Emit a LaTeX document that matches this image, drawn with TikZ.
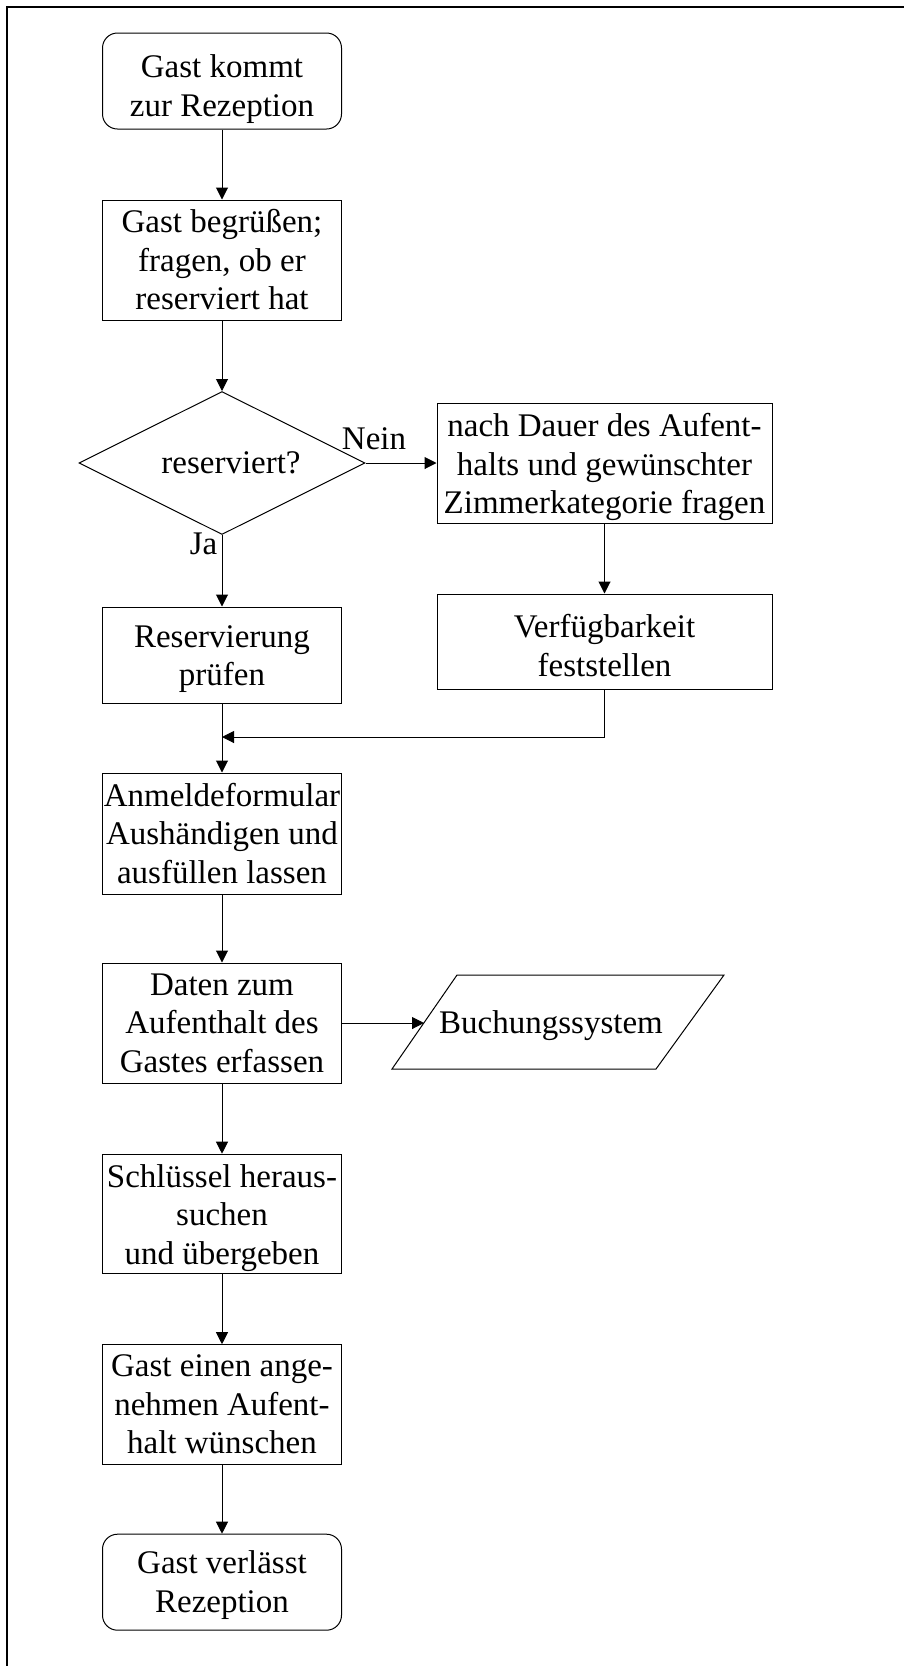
\documentclass[tikz,border=0pt]{standalone}
\usepackage{fontspec}
\setmainfont{Liberation Serif}
\usetikzlibrary{arrows.meta,shapes.geometric}
\begin{document}
\begin{tikzpicture}[x=1pt,y=-1pt,
  every node/.style={font=\fontsize{33}{38.5}\selectfont, align=center, inner sep=0pt},
  box/.style={draw, line width=1pt, minimum width=239pt},
  term/.style={box, rounded corners=15pt},
  dec/.style={draw, line width=1pt, diamond, aspect=2, minimum width=286pt, minimum height=143pt},
  conn/.style={line width=1pt, -{Triangle[length=12pt,width=12pt]}},
  lbl/.style={}]
\useasboundingbox (0,0) rectangle (904,1666);
\draw[line width=2.3pt] (7,1666) -- (7,7) -- (904,7);

\node[term, minimum height=96pt, label={[yshift=-8pt]center:{Gast kommt\\zur Rezeption}}] (start) at (222,81) {};
\node[box, minimum height=120pt] (greet) at (222,260) {Gast begrüßen;\\fragen, ob er\\reserviert hat};
\node[dec] (decide) at (222,463) {};
\node (dectext) at (231,463) {reserviert?};
\node[box, minimum width=335pt, minimum height=120pt, label={[yshift=-4pt]center:{nach Dauer des Aufent-\\halts und gewünschter\\Zimmerkategorie fragen}}] (ask) at (604.5,463) {};
\node[box, minimum width=335pt, minimum height=95pt, label={[yshift=-4pt]center:{Verfügbarkeit\\feststellen}}] (avail) at (604.5,641.5) {};
\node[box, minimum height=96pt, label={[yshift=-4pt]center:{Reservierung\\prüfen}}] (check) at (222,655) {};
\coordinate (merge) at (222,737);
\node[box, minimum height=121pt] (form) at (222,833.5) {Anmeldeformular\\Aushändigen und\\ausfüllen lassen};
\node[box, minimum height=120pt] (data) at (222,1023) {Daten zum\\Aufenthalt des\\Gastes erfassen};
\draw[line width=1pt] (457,975) -- (724,975) -- (656,1069) -- (392,1069) -- cycle;
\coordinate (buchin) at (424,1022);
\node (buch) at (551,1025.5) {Buchungssystem};
\node[box, minimum height=119pt, label={[yshift=-4pt]center:{Schlüssel heraus-\\suchen\\und übergeben}}] (key) at (222,1213.7) {};
\node[box, minimum height=120pt] (wish) at (222,1404.7) {Gast einen ange-\\nehmen Aufent-\\halt wünschen};
\node[term, minimum height=96pt, label={[yshift=-3pt]center:{Gast verlässt\\Rezeption}}] (end) at (222,1582.2) {};

\node[lbl] (nein) at (374,439) {Nein};
\node[lbl] (ja) at (203.5,544) {Ja};

\draw[conn] (start) -- (greet);
\draw[conn] (greet) -- (decide.north);
\draw[conn] (decide.east) -- (ask.west);
\draw[conn] (decide.south) -- (check);
\draw[conn] (ask) -- (avail);
\draw[conn] (avail.south) |- (merge);
\draw[conn] (check) -- (form);
\draw[conn] (form) -- (data);
\draw[conn] (data.east) -- (data.east -| buchin);
\draw[conn] (data) -- (key);
\draw[conn] (key) -- (wish);
\draw[conn] (wish) -- (end);
\end{tikzpicture}
\end{document}
